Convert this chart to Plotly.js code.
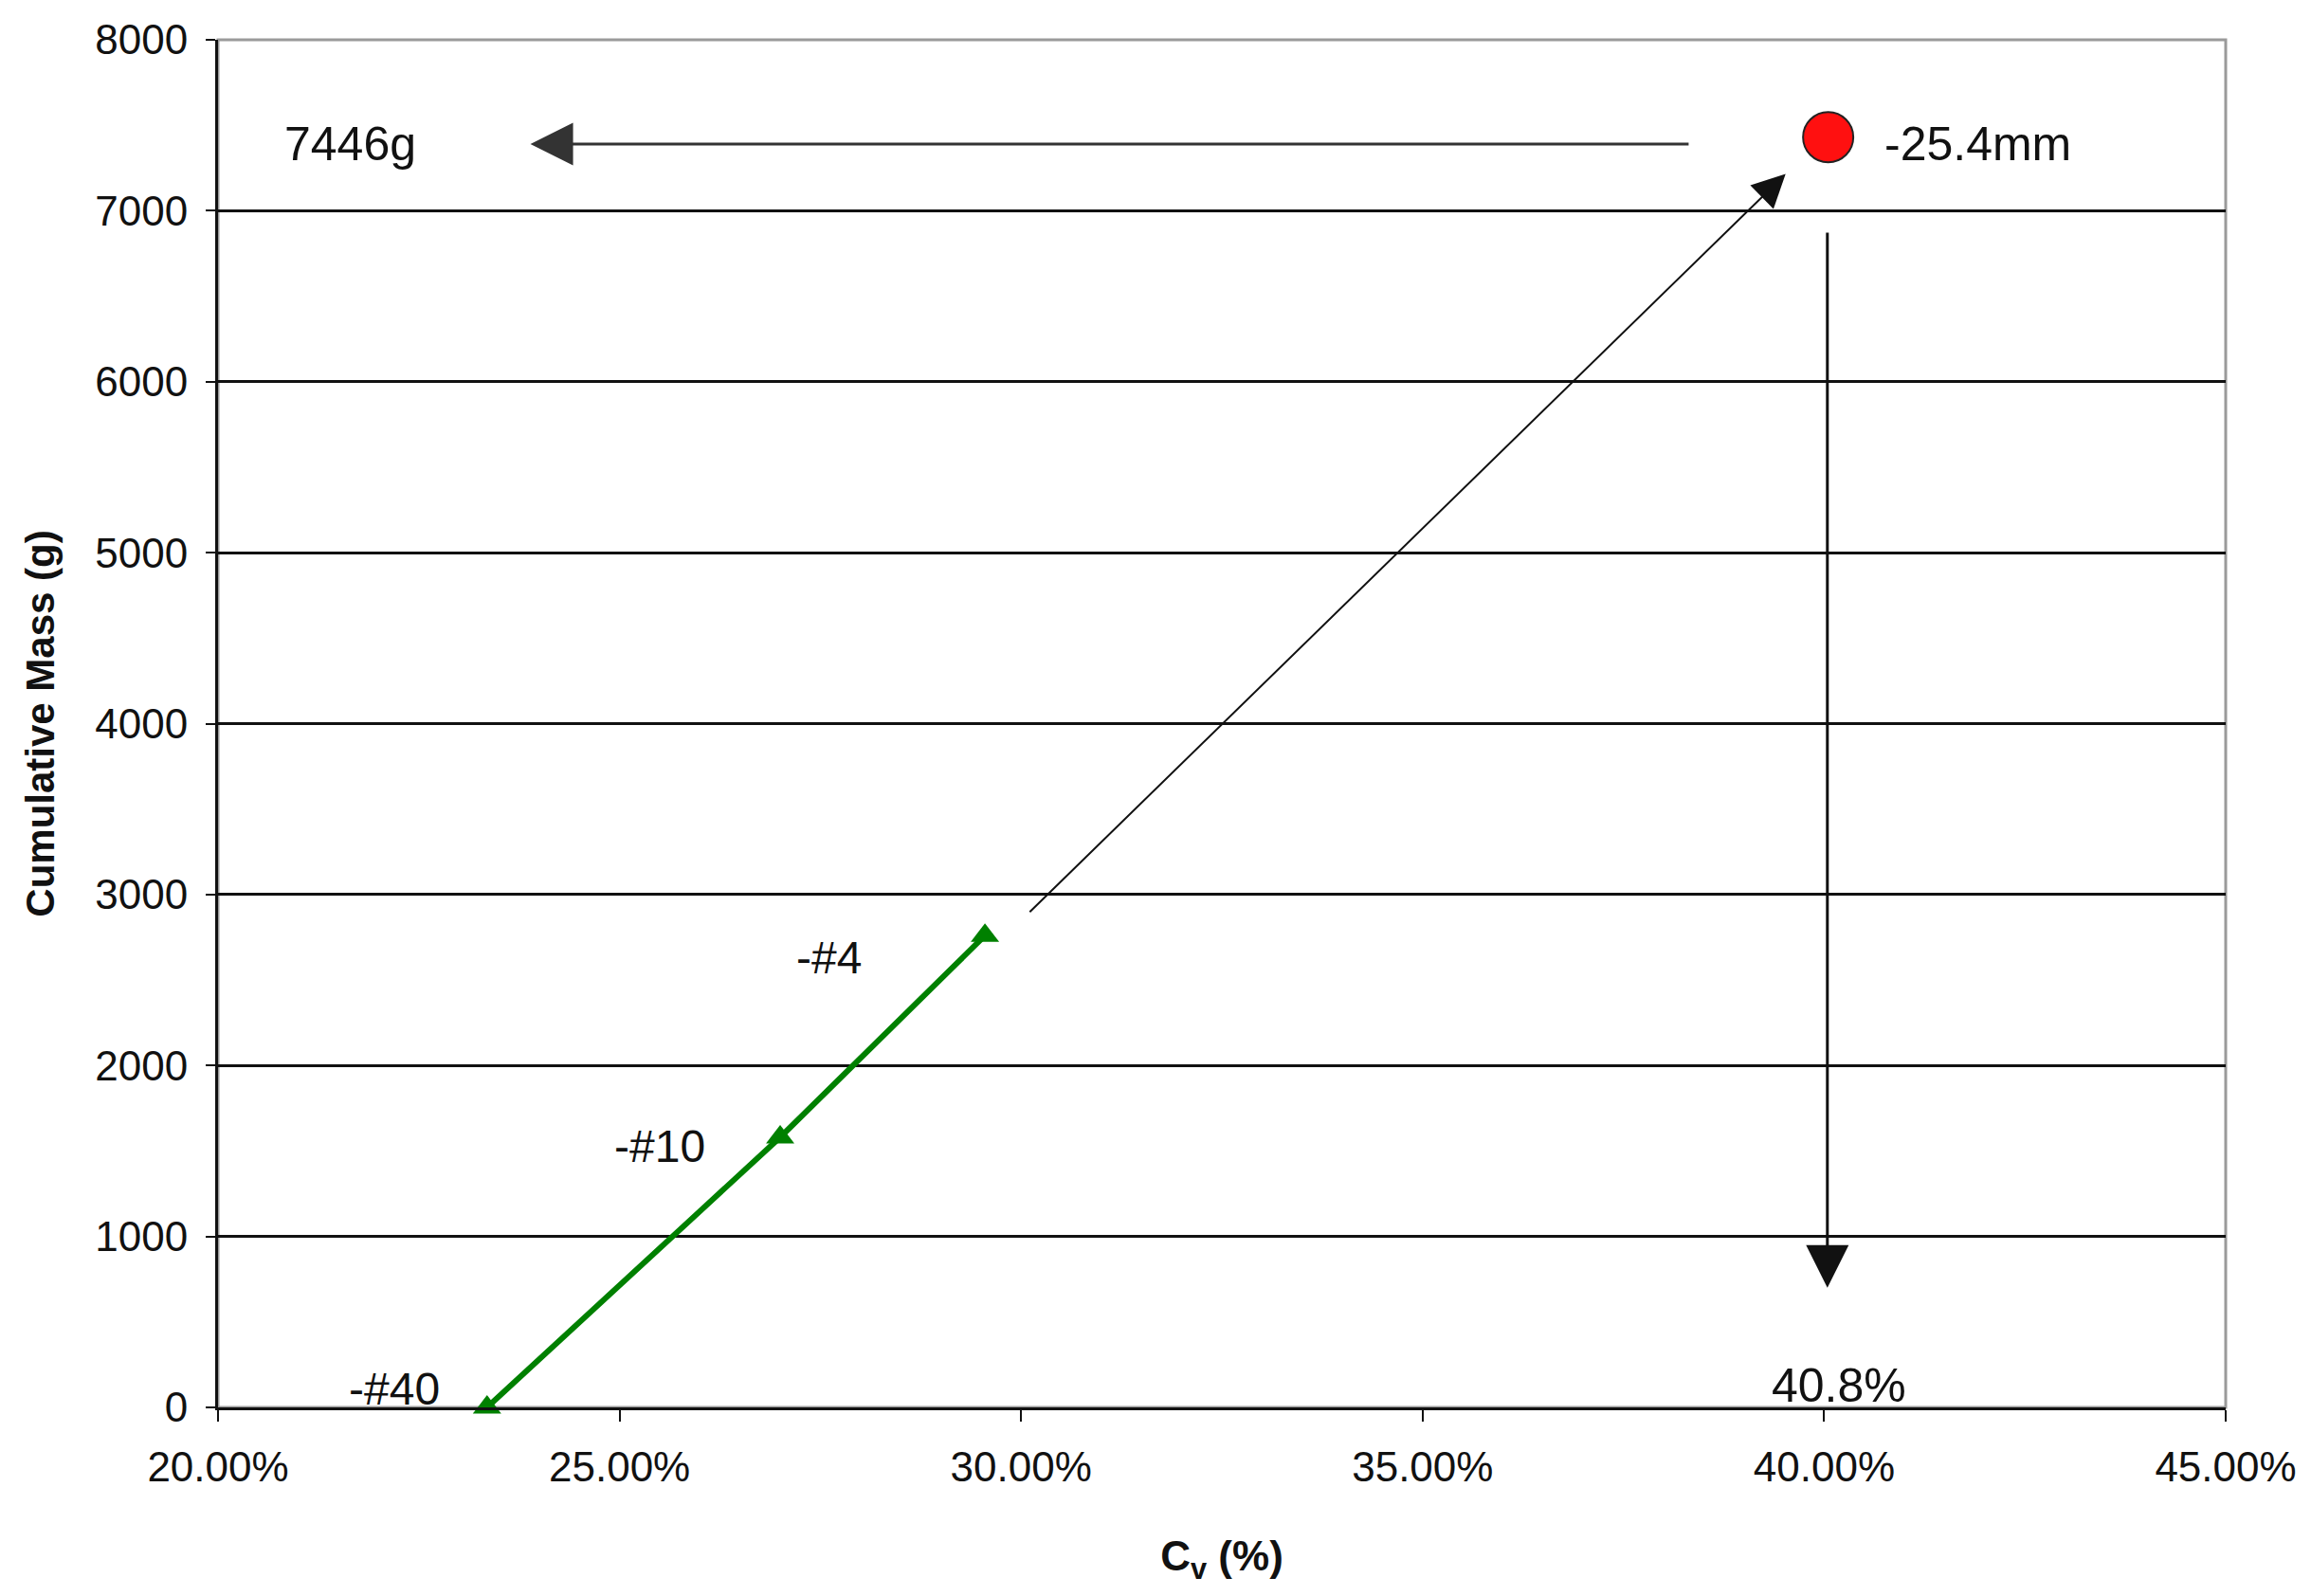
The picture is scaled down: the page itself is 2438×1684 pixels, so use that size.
<!DOCTYPE html>
<html>
<head>
<meta charset="utf-8">
<script src="https://cdn.plot.ly/plotly-3.0.1.min.js"></script>
<style>
  html, body { margin: 0; padding: 0; background: #fff; }
  #chart { width: 2438px; height: 1684px; }
</style>
</head>
<body>
<div id="chart"></div>
<script>
// sieve fractions: Cv (fraction) vs cumulative mass (g)
const sieveLabels = ['-#40', '-#10', '-#4'];
const sieveCv = [0.2335, 0.2700, 0.2955];
const sieveMass = [0, 1580, 2760];

// full sample point
const fullLabel = '-25.4mm';
const fullCv = [0.4005];
const fullMass = [7430];

// arrows, tail -> head
const arrowTailCv = [0.3833, 0.3009, 0.4004];
const arrowTailMass = [7390, 2890, 6880];
const arrowHeadCv = [0.2389, 0.3952, 0.4004];
const arrowHeadMass = [7390, 7215, 700];

// text notes
const noteText = ['7446g', '40.8%'];
const noteCv = [0.2165, 0.4018];
const noteMass = [7390, 130];

// where the sieve labels sit
const labelCv = [0.2220, 0.2550, 0.2761];
const labelMass = [110, 1530, 2630];

const FONT = 'Liberation Sans, Arial, sans-serif';

var sieveTrace = {
  x: sieveCv,
  y: sieveMass,
  mode: 'lines+markers',
  type: 'scatter',
  line: { color: '#008000', width: 6 },
  marker: { symbol: 'triangle-up', size: 26, color: '#008000' },
  cliponaxis: false,
  hoverinfo: 'x+y'
};

var fullTrace = {
  x: fullCv,
  y: fullMass,
  mode: 'markers',
  type: 'scatter',
  marker: { symbol: 'circle', size: 53, color: '#ff1010', line: { color: '#222', width: 2 } },
  cliponaxis: false
};

var annotations = [];

for (let i = 0; i < arrowTailCv.length; i++) {
  annotations.push({
    x: arrowHeadCv[i], y: arrowHeadMass[i],
    ax: arrowTailCv[i], ay: arrowTailMass[i],
    xref: 'x', yref: 'y', axref: 'x', ayref: 'y',
    text: '',
    showarrow: true,
    arrowhead: 2,
    arrowwidth: i == 1 ? 2 : 3,
    arrowsize: i == 1 ? 3.5 : 3,
    arrowcolor: i == 0 ? '#333' : '#111'
  });
}

for (let i = 0; i < sieveLabels.length; i++) {
  annotations.push({
    x: labelCv[i], y: labelMass[i], xref: 'x', yref: 'y',
    text: sieveLabels[i], showarrow: false,
    font: { family: FONT, size: 48, color: '#111' }
  });
}

for (let i = 0; i < noteText.length; i++) {
  annotations.push({
    x: noteCv[i], y: noteMass[i], xref: 'x', yref: 'y',
    text: noteText[i], showarrow: false,
    font: { family: FONT, size: 50, color: '#111' }
  });
}

annotations.push({
  x: 0.4073, y: 7390, xref: 'x', yref: 'y',
  text: fullLabel, showarrow: false, xanchor: 'left',
  font: { family: FONT, size: 50, color: '#111' }
});

var layout = {
  width: 2438,
  height: 1684,
  margin: { l: 230, r: 90, t: 42, b: 199 },
  paper_bgcolor: '#fff',
  plot_bgcolor: '#fff',
  showlegend: false,
  font: { family: FONT, color: '#111' },
  xaxis: {
    range: [0.2, 0.45],
    tick0: 0.2,
    dtick: 0.05,
    tickformat: '.2%',
    showgrid: false,
    zeroline: false,
    showline: true,
    linecolor: '#111',
    linewidth: 3,
    ticks: 'outside',
    ticklen: 12,
    tickwidth: 2,
    tickcolor: '#111',
    ticklabelstandoff: 10,
    tickfont: { family: FONT, size: 44, color: '#111' },
    title: {
      text: '<b>C<sub>v</sub> (%)</b>',
      font: { family: FONT, size: 44, color: '#111' },
      standoff: 56
    }
  },
  yaxis: {
    range: [0, 8000],
    dtick: 1000,
    tickformat: 'd',
    showgrid: true,
    gridcolor: '#111',
    gridwidth: 3,
    zeroline: false,
    showline: true,
    linecolor: '#111',
    linewidth: 3,
    ticks: 'outside',
    ticklen: 10,
    tickwidth: 2,
    tickcolor: '#111',
    ticklabelstandoff: 10,
    tickfont: { family: FONT, size: 44, color: '#111' },
    title: {
      text: '<b>Cumulative Mass (g)</b>',
      font: { family: FONT, size: 42, color: '#111' },
      standoff: 30
    }
  },
  shapes: [{
    type: 'rect', xref: 'paper', yref: 'paper',
    x0: 0, x1: 1, y0: 0, y1: 1,
    line: { color: '#9a9a9a', width: 3 },
    layer: 'below'
  }],
  annotations: annotations
};

Plotly.newPlot('chart', [sieveTrace, fullTrace], layout, { displayModeBar: false, staticPlot: true });
</script>
</body>
</html>
